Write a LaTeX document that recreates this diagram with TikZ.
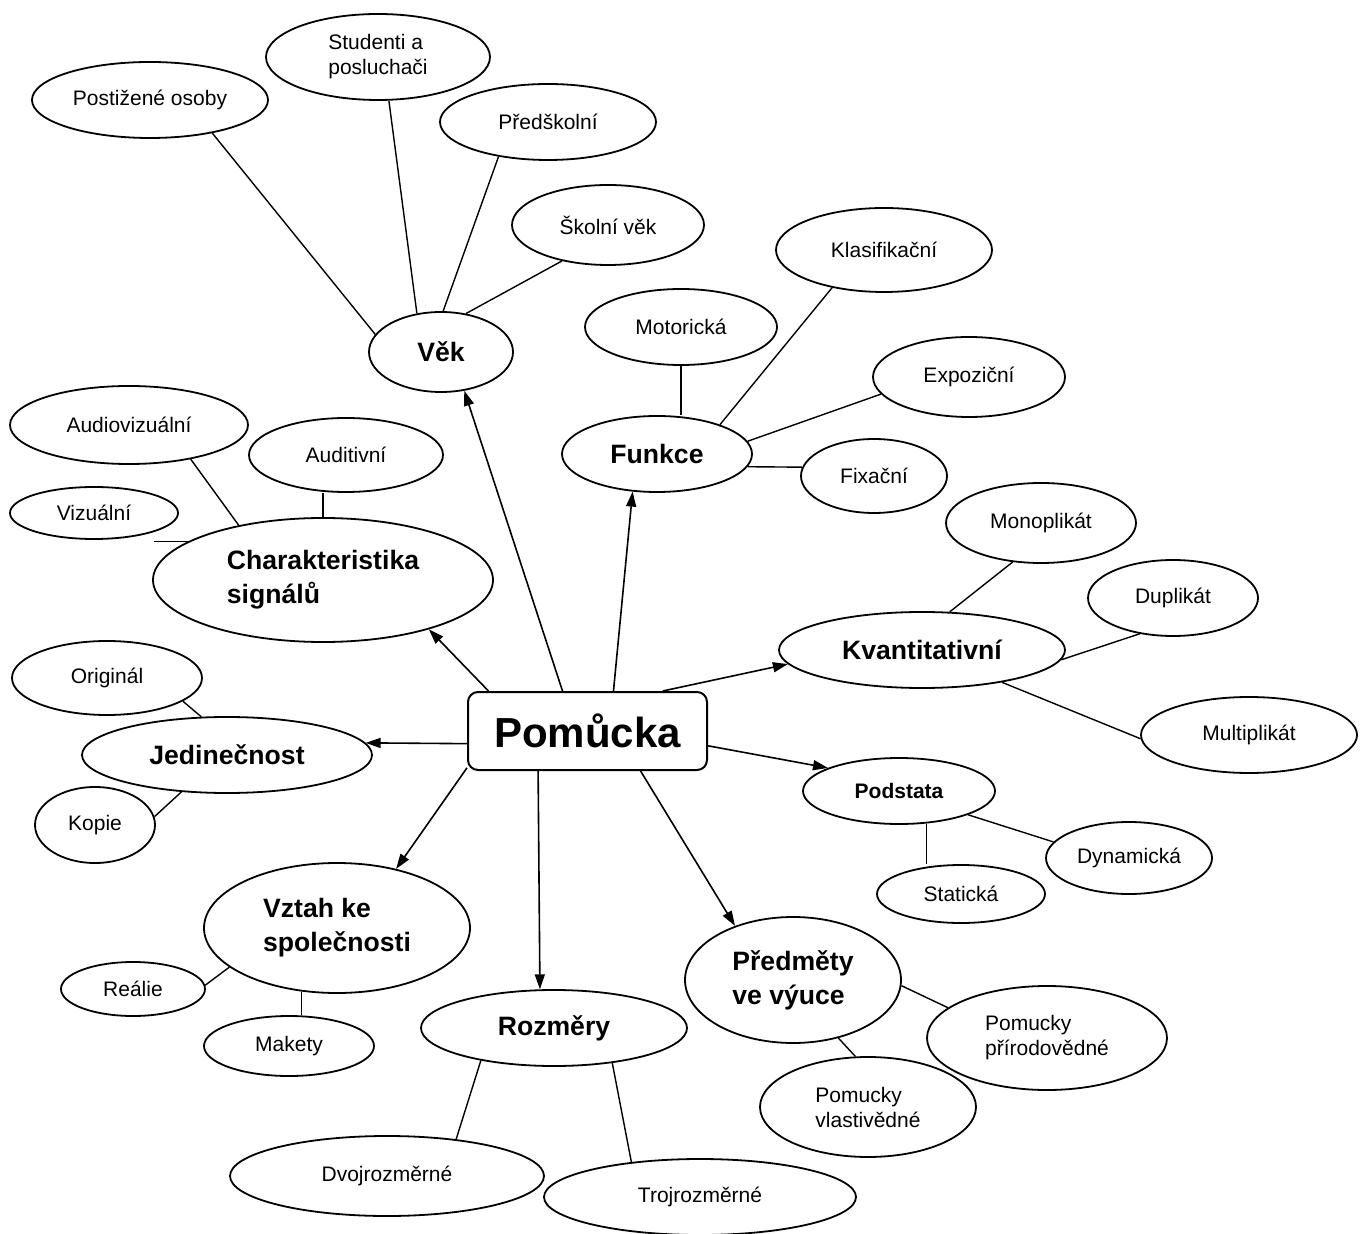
\documentclass[tikz,border=0pt]{standalone}
\usepackage{fontspec}
\setmainfont{Liberation Sans}
\usetikzlibrary{arrows.meta,shapes.geometric}

\begin{document}
\begin{tikzpicture}[x=0.5pt,y=-0.5pt,
		leaf/.style={draw,ellipse,line width=0.9pt,inner sep=0pt,align=left,font=\fontsize{10.5}{12.5}\selectfont},
		topic/.style={leaf,font=\fontsize{13.3}{17}\selectfont\bfseries},
		rxy/.style 2 args={minimum width=#1pt,minimum height=#2pt},
		hub/.style={draw,rounded corners=5pt,line width=1pt,minimum width=119.5pt,minimum height=39pt,font=\fontsize{21}{24}\selectfont\bfseries},
		twig/.style={line width=0.7pt},
		spoke/.style={line width=0.8pt,-{Triangle[length=7.5pt,width=5pt]}}]
	\useasboundingbox (0,0) rectangle (1364,1234);
	
	% Centre
	\node[hub] (hub) at (587.5,731) {Pomůcka};
	
	% Věk
	\node[leaf,rxy={118}{38}] (postiz) at (150,100) {Postižené osoby};
	\node[leaf,rxy={112}{43}] (studenti) at (378,57) {Studenti a\\posluchači};
	\node[leaf,rxy={108}{38}] (predskol) at (548,122) {Předškolní};
	\node[leaf,rxy={96}{40}] (skolni) at (608,225) {Školní věk};
	\node[topic,rxy={72}{40}] (vek) at (441,352) {Věk};
	
	% Funkce
	\node[leaf,rxy={108}{42}] (klas) at (884,250) {Klasifikační};
	\node[leaf,rxy={96}{38}] (motor) at (681,327) {Motorická};
	\node[leaf,rxy={96}{40}] (expoz) at (969,377) {Expoziční};
	\node[topic,rxy={95}{38}] (funkce) at (657,454) {Funkce};
	\node[leaf,rxy={73}{37}] (fixacni) at (874,476) {Fixační};
	
	% Charakteristika signalu
	\node[leaf,rxy={119}{39}] (audiovis) at (129,425) {Audiovizuální};
	\node[leaf,rxy={97}{37}] (auditiv) at (346,455) {Auditivní};
	\node[leaf,rxy={84}{26}] (vizual) at (94,513) {Vizuální};
	\node[topic,rxy={170}{62}] (charakt) at (323,580) {Charakteristika\\signálů};
	
	% Kvantitativni
	\node[leaf,rxy={95}{40}] (monopl) at (1041,523) {Monoplikát};
	\node[leaf,rxy={85}{38}] (dupl) at (1173,598) {Duplikát};
	\node[topic,rxy={143}{38}] (kvant) at (922,650) {Kvantitativní};
	\node[leaf,rxy={108}{38}] (multipl) at (1249,735) {Multiplikát};
	
	% Jedinecnost
	\node[leaf,rxy={95}{37}] (original) at (107,678) {Originál};
	\node[topic,rxy={145}{38}] (jedin) at (227,755) {Jedinečnost};
	\node[leaf,rxy={60}{38}] (kopie) at (95,825) {Kopie};
	
	% Podstata
	\node[leaf,rxy={96}{33},font=\fontsize{10.5}{12.5}\selectfont\bfseries] (podstata) at (899,791) {Podstata};
	\node[leaf,rxy={83}{36}] (dynam) at (1129,858) {Dynamická};
	\node[leaf,rxy={84}{29}] (statika) at (961,894) {Statická};
	
	% Vztah ke spolecnosti
	\node[topic,rxy={133}{65}] (vztah) at (337,928) {Vztah ke\\společnosti};
	\node[leaf,rxy={72}{27}] (realie) at (133,989) {Reálie};
	\node[leaf,rxy={85}{30}] (makety) at (289,1046) {Makety};
	
	% Rozmery
	\node[topic,rxy={133}{38}] (rozmery) at (554,1028) {Rozměry};
	\node[leaf,rxy={157}{40}] (dvoj) at (387,1176) {Dvojrozměrné};
	\node[leaf,rxy={156}{38}] (troj) at (700,1197) {Trojrozměrné};
	
	% Predmety ve vyuce
	\node[topic,rxy={108}{63}] (predmety) at (793,980) {Předměty\\ve výuce};
	\node[leaf,rxy={120}{52}] (prirodo) at (1047,1038) {Pomucky\\přírodovědné};
	\node[leaf,rxy={108}{50}] (vlast) at (868,1107) {Pomucky\\vlastivědné};
	
	%Straight Lines
	\draw[twig] (postiz.-28) -- (vek.165);
	\draw[twig] (studenti.-76) -- (vek.122);
	\draw[twig] (predskol.215) -- (vek.87);
	\draw[twig] (skolni.218) -- (vek.57);
	
	\draw[twig] (motor.south) -- (motor.south |- funkce.north);
	\draw[twig] (klas.216) -- (funkce.25);
	\draw[twig] (expoz.191) -- (funkce.8);
	\draw[twig] (fixacni.173) -- (funkce.-8);
	
	\draw[twig] (audiovis.-29) -- (charakt.147);
	\draw[twig] (charakt.north) -- (charakt.north |- auditiv.south);
	\draw[twig] (vizual.south east |- charakt.164) -- (charakt.164);
	
	\draw[twig] (monopl.234) -- (kvant.54);
	\draw[twig] (dupl.227) -- (kvant.-4);
	\draw[twig] (multipl.182) -- (kvant.-22);
	
	\draw[twig] (original.-17) -- (jedin.124);
	\draw[twig] (kopie.8) -- (jedin.219);
	
	\draw[twig] (podstata.-50) -- (podstata.-50 |- statika.north);
	\draw[twig] (podstata.-19) -- (dynam.168);
	
	\draw[twig] (realie.3) -- (vztah.200);
	\draw[twig] (vztah.-119) -- (vztah.-119 |- makety.north);
	
	\draw[twig] (dvoj.28) -- (rozmery.204);
	\draw[twig] (troj.153) -- (rozmery.-31);
	
	\draw[twig] (prirodo.163) -- (predmety.-3);
	\draw[twig] (vlast.104) -- (predmety.-52);
	
	%Arrows from the centre
	\draw[spoke] (hub.122) -- (vek.-59);
	\draw[spoke] (hub.57) -- (funkce.-123);
	\draw[spoke] (hub.158) -- (charakt.-25);
	\draw[spoke] (hub.28) -- (kvant.186);
	\draw[spoke] (hub.186) -- (jedin.5);
	\draw[spoke] (hub.-7) -- (podstata.162);
	\draw[spoke] (hub.-37) -- (predmety.137);
	\draw[spoke] (hub.-141) -- (rozmery.110);
	\draw[spoke] (hub.-163) -- (vztah.45);
	
\end{tikzpicture}
\end{document}
